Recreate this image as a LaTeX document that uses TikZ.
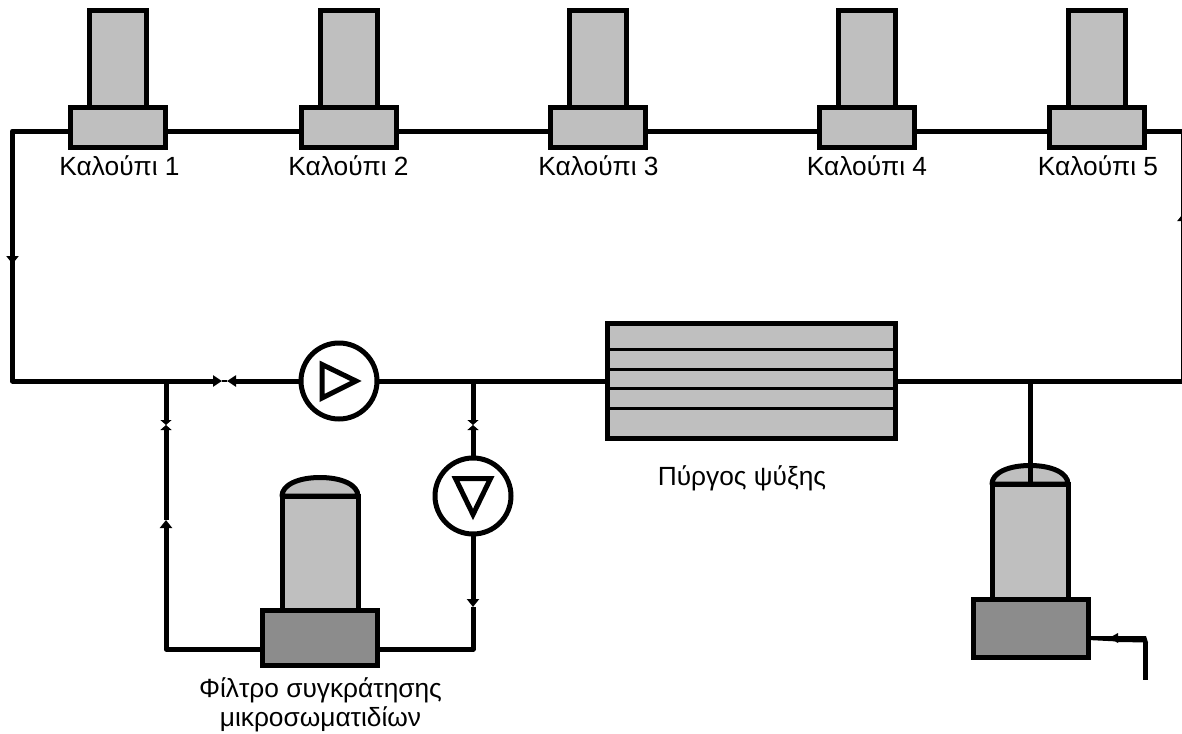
\documentclass[tikz,border=0pt]{standalone}
\usepackage{fontspec}
\setmainfont{Liberation Sans}
\usetikzlibrary{arrows.meta}
\definecolor{lightgrey}{HTML}{BFBFBF}
\definecolor{darkgrey}{HTML}{8C8C8C}
\tikzset{
  pipe/.style={line width=5pt,line cap=butt,line join=round},
  flow/.style={pipe,-{Triangle[length=8pt,width=12pt]}},
  valvetip/.style={pipe,-{Triangle[length=9pt,width=11pt]}},
  bowtie/.style={pipe,-{Triangle[length=5pt,width=11pt]}},
  box/.style={draw=black,line width=5pt,fill=lightgrey,rectangle,inner sep=0pt,outer sep=0pt,miter limit=10},
  moldtop/.style={box,minimum width=57pt,minimum height=98pt},
  moldbase/.style={box,minimum width=95pt,minimum height=39pt},
  tankbody/.style={box,minimum width=76pt,minimum height=114pt},
  tankbase/.style={box,fill=darkgrey,minimum width=115pt,minimum height=55pt},
  dome/.style={draw=black,line width=5pt,fill=lightgrey,line join=round},
  pumpbody/.style={draw=black,fill=white,circle,line width=5pt,minimum size=76pt,inner sep=0pt,outer sep=0pt},
  wedge/.style={draw=black,line width=5pt,fill=white,line join=miter},
  slat/.style={line width=3pt},
  label/.style={text=black,font=\fontsize{26.3}{26.3}\selectfont,inner sep=0pt,align=center}
}
\begin{document}
\begin{tikzpicture}[x=1pt,y=-1pt]
\useasboundingbox (0,0) rectangle (1182,733);
% moulds
\foreach \n/\x/\lx in {1/118/119.5,2/349/348.5,3/598/598.5,4/867/867,5/1097/1098}{
  \node[moldtop] (t\n) at (\x,60) {};
  \node[moldbase] (b\n) at (\x,127.5) {};
  \node[label] (m\n) at (\lx,166) {Καλούπι \n};
}
% cooling tower
\node[box,minimum width=288pt,minimum height=115pt] (tower) at (751.5,381) {};
\foreach \y in {349,369,388,408}
  \draw[slat] (tower.west |- 0,\y) -- (tower.east |- 0,\y);
\node[label] (towerlabel) at (742,478) {Πύργος ψύξης};
% pumps
\node[pumpbody] (p1) at (339,381) {};
\draw[wedge] (322,364.5) -- (356,381) -- (322,398) -- cycle;
\node[pumpbody] (p2) at (473,496) {};
\draw[wedge] (455.5,478.5) -- (490.5,478.5) -- (473,514.5) -- cycle;
% filter
\node[tankbase] (fbase) at (320,638) {};
\node[tankbody] (fbody) at (320,553) {};
\draw[dome] (fbody.north west) .. controls (282,485) and (298,477.5) .. (320,477.5) .. controls (342,477.5) and (358,485) .. (fbody.north east) -- cycle;
\node[label] (flabel) at (320.5,704.5) {Φίλτρο συγκράτησης\\[3pt]μικροσωματιδίων};
% tank
\node[tankbody,minimum height=116pt] (sbody) at (1030,542) {};
\node[tankbase,minimum height=58pt] (sbase) at (1030.5,628.5) {};
\draw[dome] (sbody.north west) .. controls (992,473) and (1008,465.5) .. (1030,465.5) .. controls (1052,465.5) and (1068,473) .. (sbody.north east) -- cycle;
% junctions
\coordinate (cnw) at (12.5,131);
\coordinate (csw) at (12.5,381);
\coordinate (cne) at (1183.5,131);
\coordinate (cse) at (1183.5,381);
\coordinate (ja) at (166,381);
\coordinate (jb) at (473,381);
\coordinate (jc) at (1030,381);
\coordinate (fl) at (166,649);
\coordinate (fr) at (473,649);
\coordinate (aw) at (12.5,264);
\coordinate (ae) at (1183.5,213);
\coordinate (au) at (166,520);
\coordinate (ad) at (473,607);
\coordinate (vha) at (222,381);
\coordinate (vhb) at (227,381);
\coordinate (vl) at (166,425);
\coordinate (vr) at (473,425);
\coordinate (sa) at (1109,638);
\coordinate (se) at (1145.5,680);
\coordinate (st) at (1145.5,642);
% top line
\foreach \a/\b in {1/2,2/3,3/4,4/5}
  \draw[pipe] ([yshift=-3.5pt]b\a.east) -- ([yshift=-3.5pt]b\b.west);
\draw[pipe] ([yshift=-3.5pt]b5.east) -- (cne);
\draw[pipe] (cne) -- (cse);
\draw[flow] (cse) -- (ae);
\draw[pipe] ([yshift=-3.5pt]b1.west) -- (cnw) -- (csw) -- (ja);
\draw[flow] (cnw) -- (aw);
% bottom line
\draw[valvetip] (ja) -- (vha);
\draw[valvetip] (p1.west) -- (vhb);
\draw[line width=2pt] (vha) -- (vhb);
\draw[pipe] (p1.east) -- (tower.west);
\draw[pipe] (tower.east) -- (cse);
\draw[pipe] (jc) -- (sbody.north);
% filter loop
\draw[bowtie] (ja) -- (vl);
\draw[bowtie] (au) -- (vl);
\draw[flow] (fl) -- (au);
\draw[pipe] (fbase.west |- fl) -- (fl) -- (166,640);
\draw[bowtie] (jb) -- (vr);
\draw[bowtie] (p2.north) -- (vr);
\draw[flow] (p2.south) -- (ad);
\draw[pipe] (ad) -- (fr) -- (fbase.east |- fr);
% tank outlet
\fill (sbase.east |- 0,636) -- (1146,636) -- (1148,642.5) -- (1118,642) -- (1118,643) -- (sa) -- (1118,633) -- (1118,636) -- cycle;
\fill (sbase.east |- 0,636) -- (1118,636) -- (1118,641.5) -- (sbase.east |- 0,640) -- cycle;
\draw[pipe] (st) -- (se);
\end{tikzpicture}
\end{document}
